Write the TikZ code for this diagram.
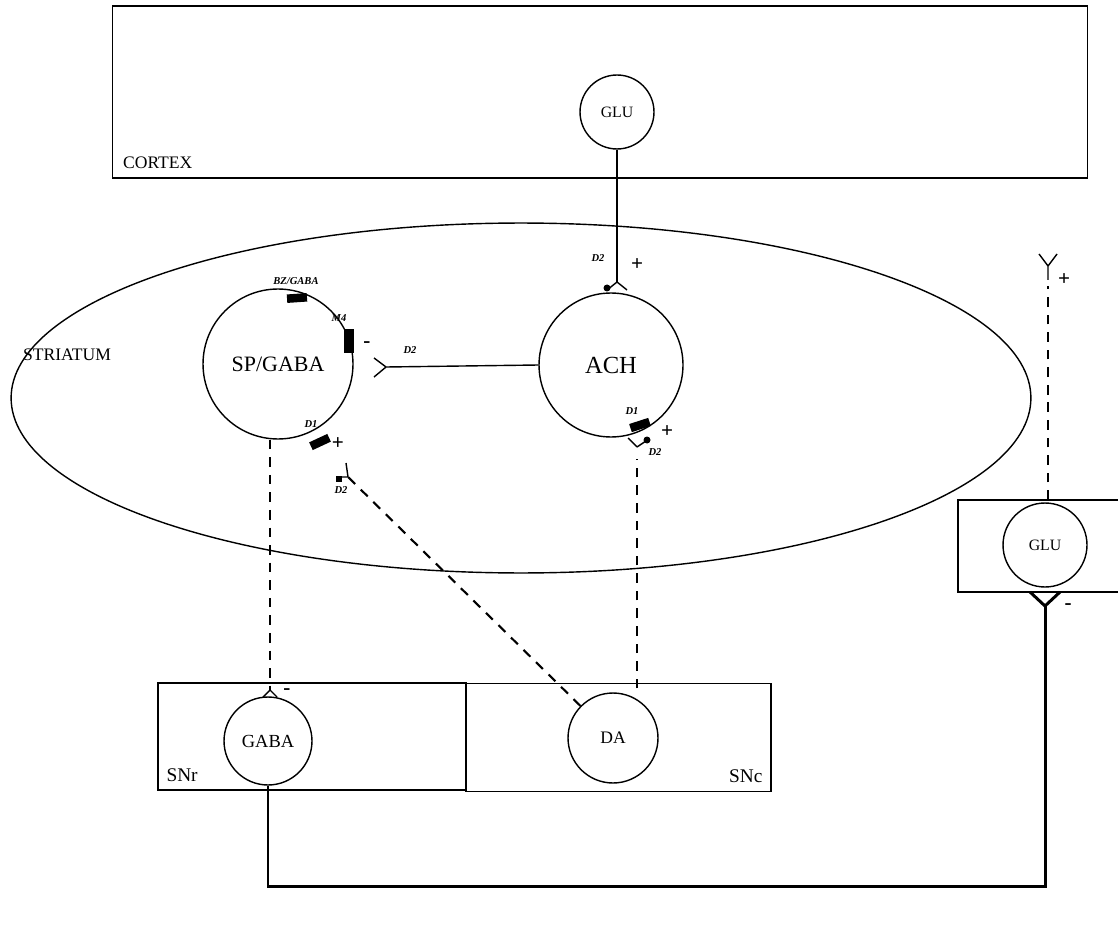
\documentclass[tikz,border=0pt]{standalone}
\usepackage{fontspec}
\setmainfont{Liberation Serif}
\usetikzlibrary{shapes.geometric,positioning,calc}

\begin{document}
\begin{tikzpicture}[x=0.02cm, y=-0.02cm,
    region/.style={draw, line width=0.8pt, inner sep=0pt},
    cell/.style={draw, circle, line width=0.8pt, inner sep=0pt},
    rcpt/.style={fill=black, inner sep=0pt, minimum width=0.4cm, minimum height=0.17cm},
    tag/.style={font=\fontsize{6}{7}\selectfont\bfseries\itshape, inner sep=0pt},
    sign/.style={font=\bfseries\large, inner sep=0pt},
    axon/.style={line width=0.8pt},
    proj/.style={line width=1.2pt, dash pattern=on 5.5pt off 4.5pt},
    efferent/.style={line width=1.7pt}
]
\useasboundingbox (0,0) rectangle (1118,932);

% regions
\node[region, minimum width=19.5cm, minimum height=3.44cm] (cortex) at (600,92) {};
\node[anchor=south west, font=\fontsize{10}{12}\selectfont] (ctxlbl) at ($(cortex.south west)+(5,-4)$) {CORTEX};
\node[draw, ellipse, line width=0.8pt, minimum width=20.4cm, minimum height=7.0cm] (striatum) at (521,398) {};
\node[font=\fontsize{10}{12}\selectfont] (strlbl) at (67,355) {STRIATUM};
\node[region, minimum width=6.16cm, minimum height=2.14cm] (snr) at (312,736.5) {};
\node[region, minimum width=6.1cm, minimum height=2.16cm] (snc) at (618.5,737.5) {};
\node[anchor=south west, font=\fontsize{11}{13}\selectfont] (snrlbl) at ($(snr.south west)+(3,-3)$) {SNr};
\node[anchor=south east, font=\fontsize{11}{13}\selectfont] (snclbl) at ($(snc.south east)+(-3,-3)$) {SNc};
\draw[line width=0.8pt] (1118,500) -- (958,500) -- (958,592) -- (1118,592);

% cells
\node[cell, minimum size=1.48cm, font=\fontsize{9}{11}\selectfont] (glu) at (617,112) {GLU};
\node[cell, minimum size=3.0cm, font=\fontsize{12.5}{14}\selectfont] (spg) at (278,364) {SP/GABA};
\node[cell, minimum size=2.88cm, font=\fontsize{14}{16}\selectfont] (ach) at (611,365) {ACH};
\node[cell, minimum size=1.76cm, font=\fontsize{10.5}{12}\selectfont] (gaba) at (268,741) {GABA};
\node[cell, minimum size=1.8cm, font=\fontsize{10}{12}\selectfont] (da) at (613,738) {DA};
\node[cell, minimum size=1.68cm, font=\fontsize{9}{11}\selectfont] (glur) at (1045,545) {GLU};

% receptors on SP/GABA and ACH
\node[rcpt, rotate=4] (bz) at (297,298) {};
\node[tag] (bzlbl) at (296,281) {BZ/GABA};
\node[rcpt, minimum width=0.19cm, minimum height=0.5cm] (m4) at (349,341) {};
\node[tag] (m4lbl) at (339,318) {M4};
\node[sign] (m4s) at (367,345) {-};
\node[rcpt, rotate=25] (d1sp) at (320,442) {};
\node[tag] (d1splbl) at (311,424) {D1};
\node[sign] (d1sps) at (338,444) {+};
\node[rcpt, rotate=18] (d1ach) at (640,425) {};
\node[tag] (d1achlbl) at (632,411) {D1};
\node[sign] (d1achs) at (667,432) {+};

% synapse forks
\coordinate (f1) at (617,282);
\coordinate (f2) at (386,367);
\coordinate (f3) at (348,477);
\coordinate (f4) at (637,447);
\coordinate (f5) at (270,690);
\coordinate (f6) at (1048,266);
\coordinate (f7) at (1045,606);
\coordinate (route) at (1045,886);

\draw[axon] (glu) -- (f1);
\draw[axon] (f1) -- ++(-10,8) (f1) -- ++(10,8);
\fill (607,288) circle (3.5);
\node[tag] (d2a) at (598,258) {D2};
\node[sign] (d2as) at (637,265) {+};

\draw[axon] (ach.west) -- (f2);
\draw[axon] (f2) -- ++(-12,-9) (f2) -- ++(-12,10);
\node[tag] (d2b) at (410,350) {D2};

\draw[axon] (f3) -- ++(-2,-14) (f3) -- ++(-10,0);
\fill (336,476) rectangle (342,482);
\node[tag] (d2c) at (341,490) {D2};

\draw[axon] (f4) -- ++(-9,-9) (f4) -- ++(9,-6);
\fill (647,440) circle (3.5);
\node[tag] (d2d) at (655,452) {D2};

\draw[axon] (f5) -- ++(-7,7) (f5) -- ++(7,7);
\node[sign] (f5s) at (287,692) {-};

\draw[axon] (f6) -- ++(-9,-12) (f6) -- ++(9,-12) (f6) -- ++(0,14);
\node[sign] (f6s) at (1064,280) {+};

\draw[efferent] (f7) -- ++(-15,-14) (f7) -- ++(15,-14);
\node[sign] (f7s) at (1068,607) {-};

% projections
\draw[proj] (f5 |- spg.south) -- (f5);
\draw[proj] (da) -- (f3);
\draw[proj] (da.north -| f4) ++(0,-4) -- ($(f4)+(0,12)$);
\draw[proj] (f6 |- 500,500) -- ($(f6)+(0,20)$);
\draw[efferent] (gaba.south) |- (route) -- (f7);
\end{tikzpicture}
\end{document}
